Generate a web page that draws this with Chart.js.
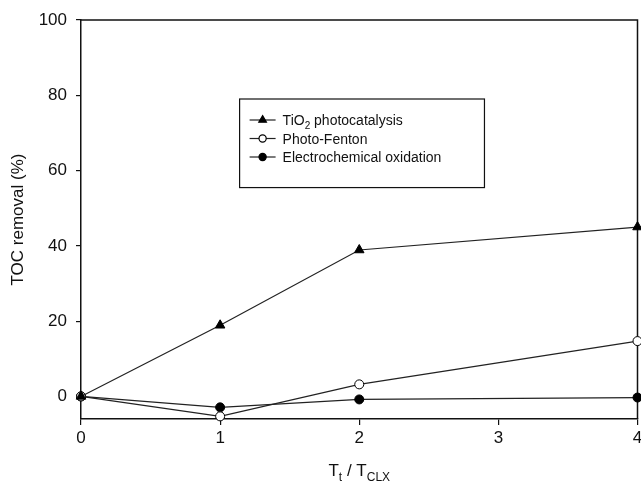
<!DOCTYPE html>
<html>
<head>
<meta charset="utf-8">
<script src="https://cdn.jsdelivr.net/npm/chart.js@4"></script>
<style>
  html, body { margin: 0; padding: 0; background: #fff; overflow: hidden; }
  canvas { display: block; }
</style>
</head>
<body>
<canvas id="toc" width="644" height="486"></canvas>
<script>
// values
const timeRatio = [0, 1, 2, 4];
const tio2Removal = [0, 18.9, 38.9, 45.0];
const fentonRemoval = [0, -5.3, 3.2, 14.7];
const electroRemoval = [0, -2.9, -0.8, -0.3];
const seriesNames = ['TiO_{2} photocatalysis', 'Photo-Fenton', 'Electrochemical oxidation'];
const xTicks = [0, 1, 2, 3, 4];
const yTicks = [0, 20, 40, 60, 80, 100];
const xTitle = 'T_{t} / T_{CLX}';
const yTitle = 'TOC removal (%)';

const FONT = '"Liberation Sans", Arial, sans-serif';
const INK = '#111';

// draws text with _{..} parts as subscripts
function drawRich(ctx, text, x, y, size, align) {
  const parts = [];
  const re = /_\{([^}]*)\}/g;
  let last = 0, m;
  while ((m = re.exec(text)) !== null) {
    if (m.index > last) parts.push({ t: text.slice(last, m.index), sub: false });
    parts.push({ t: m[1], sub: true });
    last = re.lastIndex;
  }
  if (last < text.length) parts.push({ t: text.slice(last), sub: false });

  const subSize = Math.round(size * 0.72);
  let total = 0;
  parts.forEach(p => {
    ctx.font = (p.sub ? subSize : size) + 'px ' + FONT;
    p.w = ctx.measureText(p.t).width;
    total += p.w;
  });
  let cx = align === 'center' ? x - total / 2 : x;
  ctx.textAlign = 'left';
  ctx.textBaseline = 'alphabetic';
  parts.forEach(p => {
    ctx.font = (p.sub ? subSize : size) + 'px ' + FONT;
    ctx.fillText(p.t, cx, p.sub ? y + size * 0.3 : y);
    cx += p.w;
  });
}

const framePlugin = {
  id: 'frame',
  beforeDatasetsDraw(chart) {
    const { ctx, chartArea: a } = chart;
    ctx.save();
    ctx.strokeStyle = INK;
    ctx.lineWidth = 1.5;
    ctx.beginPath();
    ctx.moveTo(a.left, a.top);
    ctx.lineTo(a.right, a.top);
    ctx.lineTo(a.right, a.bottom);
    ctx.stroke();
    ctx.restore();
  }
};

const xTitlePlugin = {
  id: 'xTitle',
  afterDraw(chart) {
    const { ctx, chartArea: a } = chart;
    ctx.save();
    ctx.fillStyle = INK;
    drawRich(ctx, xTitle, (a.left + a.right) / 2, a.bottom + 57, 17, 'center');
    ctx.restore();
  }
};

const boxLegendPlugin = {
  id: 'boxLegend',
  afterDraw(chart) {
    const { ctx, chartArea: a } = chart;
    const w = a.right - a.left, h = a.bottom - a.top;
    const bx = a.left + w * 0.285, by = a.top + h * 0.198;
    const bw = w * 0.44, bh = h * 0.222;
    ctx.save();
    ctx.strokeStyle = INK;
    ctx.lineWidth = 1.2;
    ctx.strokeRect(bx, by, bw, bh);
    chart.data.datasets.forEach((ds, i) => {
      const y = by + 21 + i * 18.5;
      ctx.strokeStyle = ds.borderColor;
      ctx.lineWidth = 1.2;
      ctx.beginPath();
      ctx.moveTo(bx + 10, y);
      ctx.lineTo(bx + 36, y);
      ctx.stroke();
      ctx.fillStyle = ds.pointBackgroundColor;
      ctx.strokeStyle = ds.pointBorderColor;
      Chart.helpers.drawPoint(ctx, {
        pointStyle: ds.pointStyle,
        radius: ds.pointRadius * 0.8,
        rotation: 0,
        borderWidth: ds.pointBorderWidth
      }, bx + 23, y);
      ctx.fillStyle = INK;
      drawRich(ctx, seriesNames[i], bx + 43, y + 5, 14, 'left');
    });
    ctx.restore();
  }
};

function series(values, i, style, fill, r) {
  return {
    label: seriesNames[i],
    data: timeRatio.map((t, k) => ({ x: t, y: values[k] })),
    borderColor: '#222',
    borderWidth: 1.2,
    pointStyle: style,
    pointRadius: r,
    pointHoverRadius: r,
    pointBackgroundColor: fill,
    pointBorderColor: '#000',
    pointBorderWidth: 1,
    tension: 0,
    clip: false
  };
}

new Chart(document.getElementById('toc'), {
  type: 'line',
  data: {
    datasets: [
      series(tio2Removal, 0, 'triangle', '#000', 5.5),
      series(fentonRemoval, 1, 'circle', '#fff', 4.5),
      series(electroRemoval, 2, 'circle', '#000', 4.5)
    ]
  },
  options: {
    responsive: false,
    animation: false,
    layout: { padding: { top: 20, right: 4, left: 0, bottom: 0 } },
    plugins: {
      legend: { display: false },
      tooltip: { enabled: false }
    },
    scales: {
      x: {
        type: 'linear',
        min: 0,
        max: 4,
        afterBuildTicks: s => { s.ticks = xTicks.map(v => ({ value: v })); },
        afterFit: s => {
          s.height = 67;
          s.paddingLeft = 0; s.paddingRight = 0;
        },
        grid: { drawOnChartArea: false, tickLength: 6, color: INK, lineWidth: 1.2 },
        border: { color: INK, width: 1.5 },
        ticks: { color: INK, font: { family: FONT, size: 17 }, padding: 3, maxRotation: 0 }
      },
      y: {
        type: 'linear',
        min: -6,
        max: 100,
        afterBuildTicks: s => { s.ticks = yTicks.map(v => ({ value: v })); },
        afterFit: s => {
          s.width = 81;
          s.paddingTop = 0; s.paddingBottom = 0;
        },
        title: { display: true, text: yTitle, color: INK, font: { family: FONT, size: 17 }, padding: { top: 8, bottom: 0 } },
        grid: { drawOnChartArea: false, tickLength: 5, color: INK, lineWidth: 1.2 },
        border: { color: INK, width: 1.5 },
        ticks: { color: INK, font: { family: FONT, size: 17 }, padding: 9 }
      }
    }
  },
  plugins: [framePlugin, xTitlePlugin, boxLegendPlugin]
});
</script>
</body>
</html>
